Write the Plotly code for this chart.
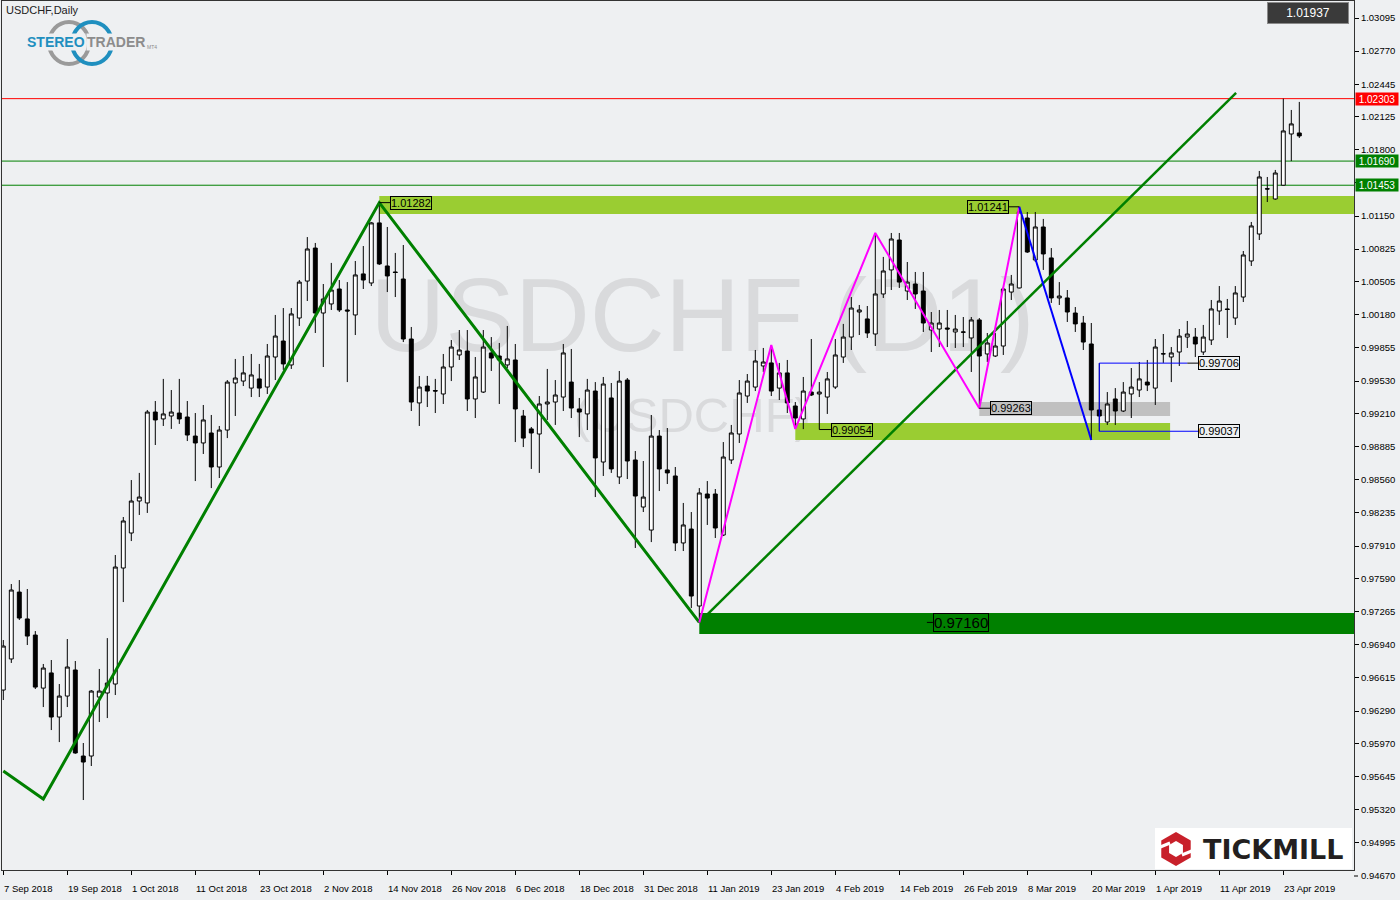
import plotly.graph_objects as go

# ---------------- data ----------------
bar_index = list(range(163))

open_ = [0.96496, 0.96801, 0.97458, 0.97194, 0.97036, 0.96515, 0.96664, 0.96231, 0.96437, 0.96693,
         0.95848, 0.95848, 0.96427, 0.96467, 0.96555, 0.97694, 0.98038, 0.98352, 0.98333, 0.99226,
         0.99158, 0.99187, 0.99216, 0.99177, 0.98990, 0.98922, 0.99020, 0.98686, 0.99049, 0.99511,
         0.99530, 0.99461, 0.99551, 0.99471, 0.99766, 0.99923, 0.99688, 1.00149, 1.00512, 1.00836,
         1.00198, 1.00287, 1.00434, 1.00228, 1.00179, 1.00582, 1.00493, 1.01083, 1.00660, 1.00601,
         1.00532, 0.99943, 0.99315, 0.99481, 0.99437, 0.99403, 0.99668, 0.99786, 0.99825, 0.99354,
         0.99422, 0.99806, 0.99776, 0.99688, 0.99737, 0.99187, 0.99060, 0.99010, 0.99305, 0.99324,
         0.99373, 0.99520, 0.99256, 0.99207, 0.99432, 0.98735, 0.99364, 0.98588, 0.99540, 0.98755,
         0.98293, 0.98067, 0.98990, 0.98657, 0.98598, 0.97940, 0.98077, 0.97321, 0.98421, 0.98421,
         0.98018, 0.98755, 0.99010, 0.99383, 0.99471, 0.99678, 0.99708, 0.99461, 0.99610, 0.99285,
         0.99158, 0.99422, 0.99403, 0.99373, 0.99471, 0.99766, 0.99962, 1.00208, 1.00140, 0.99992,
         1.00385, 1.00621, 1.00915, 1.00414, 1.00483, 1.00414, 1.00031, 1.00041, 1.00051, 1.00012,
         1.00012, 0.99953, 1.00130, 0.99796, 0.99776, 0.99874, 1.00404, 1.00444, 1.01131, 1.00719,
         1.01043, 1.00739, 1.00346, 1.00346, 1.00198, 1.00100, 0.99894, 0.99246, 0.99128, 0.99354,
         0.99236, 0.99403, 0.99442, 0.99520, 0.99461, 0.99796, 0.99766, 0.99815, 0.99962, 0.99962,
         0.99815, 0.99933, 1.00218, 1.00238, 1.00149, 1.00355, 1.00709, 1.00974, 1.01418, 1.01318,
         1.01453, 1.01956, 1.01966]

high = [0.96987, 0.97537, 0.97576, 0.97488, 0.97075, 0.96752, 0.96791, 0.96555, 0.96997, 0.96781,
        0.95976, 0.96496, 0.96703, 0.97006, 0.97822, 0.98195, 0.98558, 0.98628, 0.99246, 0.99334,
        0.99551, 0.99442, 0.99551, 0.99334, 0.99216, 0.99295, 0.99197, 0.99089, 0.99540, 0.99747,
        0.99776, 0.99796, 0.99698, 0.99894, 1.00179, 1.00247, 1.00247, 1.00522, 1.00944, 1.00886,
        1.00483, 1.00690, 1.00522, 1.00502, 1.00709, 1.00856, 1.01092, 1.01282, 1.01043, 1.00788,
        1.00866, 1.00061, 0.99580, 0.99580, 0.99551, 0.99796, 0.99933, 1.00031, 1.00031, 0.99766,
        1.00031, 0.99962, 0.99904, 1.00071, 0.99894, 0.99246, 0.99079, 0.99383, 0.99649, 0.99540,
        0.99894, 0.99845, 0.99364, 0.99551, 0.99520, 0.99570, 0.99511, 0.99629, 0.99560, 0.98843,
        0.98745, 0.99197, 0.99049, 0.99069, 0.98686, 0.98333, 0.98244, 0.98479, 0.98548, 0.98470,
        0.98931, 0.99099, 0.99540, 0.99599, 0.99835, 0.99855, 0.99884, 0.99708, 0.99737, 0.99324,
        0.99570, 0.99943, 0.99520, 0.99619, 0.99943, 1.00091, 1.00355, 1.00277, 1.00267, 1.00984,
        1.00749, 1.00984, 1.00984, 1.00699, 1.00601, 1.00601, 1.00208, 1.00228, 1.00228, 1.00179,
        1.00159, 1.00159, 1.00149, 1.00002, 1.00002, 1.00454, 1.00572, 1.01241, 1.01190, 1.01190,
        1.01122, 1.00836, 1.00502, 1.00424, 1.00257, 1.00169, 1.00100, 0.99706, 0.99422, 0.99461,
        0.99520, 0.99658, 0.99717, 0.99737, 0.99943, 0.99992, 0.99864, 1.00041, 1.00120, 1.00051,
        1.00081, 1.00326, 1.00463, 1.00336, 1.00463, 1.00807, 1.01092, 1.01593, 1.01534, 1.01603,
        1.02303, 1.02192, 1.02271]

low = [0.96398, 0.96762, 0.97184, 0.96938, 0.96506, 0.96329, 0.96103, 0.95985, 0.96329, 0.95870,
       0.95416, 0.95750, 0.96182, 0.96221, 0.96447, 0.97360, 0.97959, 0.98215, 0.98235, 0.98902,
       0.99089, 0.99060, 0.99109, 0.98941, 0.98548, 0.98814, 0.98479, 0.98578, 0.98970, 0.99187,
       0.99481, 0.99373, 0.99373, 0.99403, 0.99540, 0.99639, 0.99649, 1.00071, 1.00316, 1.00002,
       0.99668, 1.00228, 1.00208, 0.99520, 0.99982, 1.00434, 1.00463, 1.00670, 1.00404, 1.00355,
       0.99913, 0.99236, 0.99089, 0.99275, 0.99216, 0.99305, 0.99530, 0.99737, 0.99236, 0.99167,
       0.99413, 0.99629, 0.99305, 0.99658, 0.98931, 0.98882, 0.98667, 0.98628, 0.99148, 0.99099,
       0.99236, 0.99167, 0.98980, 0.99049, 0.98391, 0.98598, 0.98628, 0.98519, 0.98568, 0.97891,
       0.98244, 0.97949, 0.98450, 0.98519, 0.97861, 0.97861, 0.97301, 0.97160, 0.98117, 0.97989,
       0.98008, 0.98716, 0.98922, 0.99315, 0.99432, 0.99619, 0.99383, 0.99344, 0.99216, 0.99060,
       0.99058, 0.99383, 0.99054, 0.99207, 0.99452, 0.99708, 0.99835, 0.99982, 0.99953, 0.99874,
       1.00346, 1.00424, 1.00444, 1.00326, 1.00238, 1.00012, 0.99815, 0.99864, 0.99864, 0.99855,
       0.99864, 0.99619, 0.99263, 0.99717, 0.99766, 0.99786, 1.00326, 1.00440, 1.00788, 1.00699,
       1.00621, 1.00297, 1.00277, 1.00110, 1.00012, 0.99835, 0.98951, 0.99037, 0.99099, 0.99099,
       0.99226, 0.99167, 0.99373, 0.99432, 0.99295, 0.99708, 0.99520, 0.99678, 0.99855, 0.99766,
       0.99786, 0.99884, 1.00081, 0.99953, 1.00081, 1.00306, 1.00660, 1.00915, 1.01288, 1.01310,
       1.01450, 1.01690, 1.01917]

close = [0.96928, 0.97478, 0.97203, 0.97026, 0.96525, 0.96712, 0.96231, 0.96437, 0.96722, 0.95878,
         0.95789, 0.96486, 0.96486, 0.96565, 0.97704, 0.98156, 0.98352, 0.98391, 0.99226, 0.99148,
         0.99207, 0.99226, 0.99158, 0.99000, 0.98922, 0.99148, 0.98686, 0.99049, 0.99520, 0.99560,
         0.99610, 0.99590, 0.99461, 0.99776, 0.99972, 0.99698, 1.00189, 1.00502, 1.00827, 1.00198,
         1.00336, 1.00424, 1.00228, 1.00218, 1.00572, 1.00522, 1.01083, 1.00680, 1.00562, 1.00596,
         0.99943, 0.99324, 0.99471, 0.99432, 0.99432, 0.99668, 0.99864, 0.99835, 0.99354, 0.99570,
         0.99864, 0.99756, 0.99737, 0.99747, 0.99256, 0.98970, 0.99020, 0.99305, 0.99324, 0.99393,
         0.99806, 0.99265, 0.99226, 0.99442, 0.98775, 0.99501, 0.98667, 0.99530, 0.98745, 0.98401,
         0.98391, 0.98990, 0.98667, 0.98628, 0.97940, 0.98117, 0.97419, 0.98431, 0.98381, 0.98087,
         0.98784, 0.99020, 0.99413, 0.99530, 0.99727, 0.99717, 0.99432, 0.99610, 0.99315, 0.99167,
         0.99432, 0.99393, 0.99422, 0.99551, 0.99786, 0.99962, 1.00247, 1.00228, 1.00002, 1.00385,
         1.00611, 1.00925, 1.00502, 1.00502, 1.00385, 1.00100, 1.00100, 1.00100, 1.00041, 1.00041,
         1.00010, 1.00130, 0.99776, 0.99904, 0.99874, 1.00434, 1.00483, 1.01190, 1.00797, 1.01043,
         1.00778, 1.00346, 1.00365, 1.00208, 1.00091, 0.99913, 0.99246, 0.99187, 0.99305, 0.99236,
         0.99422, 0.99471, 0.99551, 0.99491, 0.99864, 0.99798, 0.99806, 0.99972, 0.99992, 0.99894,
         0.99962, 1.00238, 1.00316, 1.00233, 1.00395, 1.00768, 1.01053, 1.01534, 1.01416, 1.01573,
         1.01986, 1.02055, 1.01937]

x_tick_bars = [0, 8, 16, 24, 32, 40, 48, 56, 64, 72, 80, 88, 96, 104, 112, 120, 128, 136, 144, 152, 160]
x_tick_labels = ["7 Sep 2018", "19 Sep 2018", "1 Oct 2018", "11 Oct 2018", "23 Oct 2018", "2 Nov 2018",
                 "14 Nov 2018", "26 Nov 2018", "6 Dec 2018", "18 Dec 2018", "31 Dec 2018", "11 Jan 2019",
                 "23 Jan 2019", "4 Feb 2019", "14 Feb 2019", "26 Feb 2019", "8 Mar 2019", "20 Mar 2019",
                 "1 Apr 2019", "11 Apr 2019", "23 Apr 2019"]

y_ticks = [1.03095, 1.02770, 1.02445, 1.02125, 1.01800, 1.01475, 1.01150, 1.00825, 1.00505, 1.00180,
           0.99855, 0.99530, 0.99210, 0.98885, 0.98560, 0.98235, 0.97910, 0.97590, 0.97265, 0.96940,
           0.96615, 0.96290, 0.95970, 0.95645, 0.95320, 0.94995]
y_tick_below = 0.94670

# drawn analysis objects (bar index, price)
green_zz_x = [0, 5, 47, 87]
green_zz_y = [0.95701, 0.95426, 1.01282, 0.97160]
trend_x = [87, 154.1]
trend_y = [0.97160, 1.02359]
pink_x = [87, 96, 99, 109, 122, 127]
pink_y = [0.97160, 0.99884, 0.99060, 1.00984, 0.99263, 1.01241]
blue_x = [127, 136]
blue_y = [1.01241, 0.98951]

h_levels = [1.02303, 1.01690, 1.01453]
h_colors = ["#ff0000", "#008000", "#008000"]
current_price = 1.01937

# ---------------- geometry helpers (pixels -> paper) ----------------
W, H = 1400, 900
PL, PR, PT, PB = 2, 1354, 1, 870
X_MIN, X_MAX = (PL - 3.3) / 8.0, (PR - 3.3) / 8.0
Y_MAX = 1.032717 - 0.000098193 * PT
Y_MIN = 1.032717 - 0.000098193 * PB
BG = "#eef0f2"


def px(x):
    return (x - PL) / (PR - PL)


def py(y):
    return (PB - y) / (PB - PT)


fig = go.Figure()

# candles
fig.add_trace(go.Candlestick(
    x=bar_index, open=open_, high=high, low=low, close=close,
    increasing=dict(line=dict(color="black", width=1), fillcolor="white"),
    decreasing=dict(line=dict(color="black", width=1), fillcolor="black"),
    whiskerwidth=0, hoverinfo="skip", showlegend=False))

# analysis lines (above candles)
fig.add_trace(go.Scatter(x=green_zz_x, y=green_zz_y, mode="lines",
                         line=dict(color="#008000", width=3), hoverinfo="skip", showlegend=False))
fig.add_trace(go.Scatter(x=trend_x, y=trend_y, mode="lines",
                         line=dict(color="#008000", width=2.5), hoverinfo="skip", showlegend=False))
fig.add_trace(go.Scatter(x=pink_x, y=pink_y, mode="lines",
                         line=dict(color="#ff00ff", width=2), hoverinfo="skip", showlegend=False))
fig.add_trace(go.Scatter(x=blue_x, y=blue_y, mode="lines",
                         line=dict(color="#0000ff", width=2), hoverinfo="skip", showlegend=False))

shapes = []
WM_FONT = "Liberation Sans, Arial, sans-serif"

# watermark (below candles, via shape labels)
shapes.append(dict(type="rect", xref="paper", yref="paper", layer="below",
                   x0=px(340), x1=px(1065), y0=py(250), y1=py(360),
                   line=dict(width=0), fillcolor="rgba(0,0,0,0)",
                   label=dict(text="USDCHF (D1)", textposition="middle center",
                              font=dict(family=WM_FONT, size=104, color="#d9dadc"))))
shapes.append(dict(type="rect", xref="paper", yref="paper", layer="below",
                   x0=px(560), x1=px(825), y0=py(380), y1=py(440),
                   line=dict(width=0), fillcolor="rgba(0,0,0,0)",
                   label=dict(text="(USDCHF)", textposition="middle center",
                              font=dict(family=WM_FONT, size=49, color="#d9dadc"))))

# zones
shapes.append(dict(type="rect", xref="x", yref="y", layer="below", x0=47, x1=X_MAX,
                   y0=1.01170, y1=1.01347, line=dict(width=0), fillcolor="#9acd32"))
shapes.append(dict(type="rect", xref="x", yref="y", layer="below", x0=99, x1=145.85,
                   y0=0.98951, y1=0.99118, line=dict(width=0), fillcolor="#9acd32"))
shapes.append(dict(type="rect", xref="x", yref="y", layer="below", x0=122, x1=145.85,
                   y0=0.99187, y1=0.99324, line=dict(width=0), fillcolor="#c0c0c0"))
shapes.append(dict(type="rect", xref="x", yref="y", layer="below", x0=87, x1=X_MAX,
                   y0=0.97046, y1=0.97252, line=dict(width=0), fillcolor="#008000"))

# horizontal levels
for lv, col in zip(h_levels, h_colors):
    shapes.append(dict(type="line", xref="paper", yref="y", layer="below", x0=0, x1=1,
                       y0=lv, y1=lv, line=dict(color=col, width=1)))

# connectors to labels
for xa, xb, yv, col in [(47, 48.34, 1.01282, "black"), (125.7, 127, 1.01241, "black"),
                        (102, 103.47, 0.99054, "black"), (122, 123.34, 0.99263, "black"),
                        (115.45, 116.2, 0.97160, "black"),
                        (137, 148.0, 0.99706, "#0000ff"), (148.0, 149.34, 0.99706, "black"),
                        (137, 149.34, 0.99037, "#0000ff")]:
    shapes.append(dict(type="line", xref="x", yref="y", x0=xa, x1=xb, y0=yv, y1=yv,
                       line=dict(color=col, width=1)))
shapes.append(dict(type="line", xref="x", yref="y", x0=137, x1=137, y0=0.99037, y1=0.99706,
                   line=dict(color="#0000ff", width=1)))

# Stereotrader rings
shapes.append(dict(type="circle", xref="paper", yref="paper", x0=px(49), x1=px(89), y0=py(64), y1=py(22),
                   line=dict(color="#9a9a9a", width=4)))
shapes.append(dict(type="circle", xref="paper", yref="paper", x0=px(72), x1=px(112), y0=py(64), y1=py(22),
                   line=dict(color="#1f8fbf", width=4)))

# Tickmill box + icon
shapes.append(dict(type="rect", xref="paper", yref="paper", x0=px(1155), x1=px(1352), y0=py(869), y1=py(828),
                   line=dict(width=0), fillcolor="white"))
cx, cy, R, r = 1176, 849, 17, 8
outer = [(cx, cy - R), (cx + 0.866 * R, cy - R / 2), (cx + 0.866 * R, cy + R / 2), (cx, cy + R),
         (cx - 0.866 * R, cy + R / 2), (cx - 0.866 * R, cy - R / 2)]
inner = [(cx, cy - r), (cx + 0.866 * r, cy - r / 2), (cx + 0.866 * r, cy + r / 2), (cx, cy + r),
         (cx - 0.866 * r, cy + r / 2), (cx - 0.866 * r, cy - r / 2)]


def hexpath(pts):
    return "M " + " L ".join(f"{px(a):.5f},{py(b):.5f}" for a, b in pts) + " Z"


shapes.append(dict(type="path", xref="paper", yref="paper", path=hexpath(outer),
                   fillcolor="#c8202a", line=dict(width=0)))
shapes.append(dict(type="path", xref="paper", yref="paper", path=hexpath(inner),
                   fillcolor="white", line=dict(width=0)))
shapes.append(dict(type="line", xref="paper", yref="paper", x0=px(cx - 0.866 * R - 1), x1=px(cx - 0.866 * r + 1),
                   y0=py(cy - 2), y1=py(cy - 6), line=dict(color="white", width=3)))
shapes.append(dict(type="line", xref="paper", yref="paper", x0=px(cx + 0.866 * R + 1), x1=px(cx + 0.866 * r - 1),
                   y0=py(cy + 2), y1=py(cy + 6), line=dict(color="white", width=3)))

# tick below the plot bottom on the price scale
shapes.append(dict(type="line", xref="paper", yref="paper", x0=px(PR), x1=px(PR + 4),
                   y0=py(876), y1=py(876), line=dict(color="black", width=1)))

annotations = []
FONT = "Liberation Sans, Arial, sans-serif"

# object labels
for xv, yv, txt, anchor, size in [(48.34, 1.01282, "1.01282", "left", 11),
                                  (125.7, 1.01241, "1.01241", "right", 11),
                                  (103.47, 0.99054, "0.99054", "left", 11),
                                  (123.34, 0.99263, "0.99263", "left", 11),
                                  (149.34, 0.99706, "0.99706", "left", 11),
                                  (149.34, 0.99037, "0.99037", "left", 11),
                                  (116.2, 0.97160, "0.97160", "left", 15)]:
    annotations.append(dict(x=xv, y=yv, xref="x", yref="y", text=txt, showarrow=False,
                            xanchor=anchor, yanchor="middle",
                            font=dict(family=FONT, size=size, color="black"),
                            bordercolor="black", borderwidth=1, borderpad=0,
                            bgcolor="rgba(0,0,0,0)"))

# price-scale labels of levels
for lv, col in zip(h_levels, h_colors):
    annotations.append(dict(x=px(PR + 1), y=lv, xref="paper", yref="y", text=f"{lv:.5f}",
                            showarrow=False, xanchor="left", yanchor="middle", width=42, height=12,
                            font=dict(family=FONT, size=10, color="white"), bgcolor=col, borderpad=0))
annotations.append(dict(x=px(PR + 5), y=py(876), xref="paper", yref="paper", text=f"{y_tick_below:.5f}",
                        showarrow=False, xanchor="left", yanchor="middle",
                        font=dict(family=FONT, size=9.5, color="black")))

# current price box
annotations.append(dict(x=px(1308), y=py(13), xref="paper", yref="paper", text=f"{current_price:.5f}",
                        showarrow=False, xanchor="center", yanchor="middle", width=78, height=18,
                        bgcolor="#3a3a3a", bordercolor="#8a8a8a",
                        borderwidth=1, font=dict(family=FONT, size=12, color="white")))

# time labels
for b, t in zip(x_tick_bars, x_tick_labels):
    annotations.append(dict(x=b, y=0, xref="x", yref="paper", text=t, showarrow=False,
                            xanchor="left", yanchor="top", yshift=-11, xshift=-1,
                            font=dict(family=FONT, size=9.5, color="black")))

# title
annotations.append(dict(x=px(4), y=py(10), xref="paper", yref="paper", text="USDCHF,Daily", showarrow=False,
                        xanchor="left", yanchor="middle", font=dict(family=FONT, size=11, color="#222222")))

# Stereotrader text
annotations.append(dict(x=px(86), y=py(42), xref="paper", yref="paper", text="<b>STEREO</b>", showarrow=False,
                        xanchor="right", yanchor="middle", bgcolor=BG, borderpad=0,
                        font=dict(family=FONT, size=14, color="#1f8fbf")))
annotations.append(dict(x=px(86), y=py(42), xref="paper", yref="paper", text="<b>TRADER</b>", showarrow=False,
                        xanchor="left", yanchor="middle", bgcolor=BG, borderpad=0,
                        font=dict(family=FONT, size=14, color="#8c8c8c")))
annotations.append(dict(x=px(145), y=py(47), xref="paper", yref="paper", text="MT4", showarrow=False,
                        xanchor="left", yanchor="middle",
                        font=dict(family=FONT, size=5, color="#8c8c8c")))

# Tickmill text
annotations.append(dict(x=px(1201), y=py(849), xref="paper", yref="paper", text="<b>TICKMILL</b>",
                        showarrow=False, xanchor="left", yanchor="middle",
                        font=dict(family="DejaVu Sans, Liberation Sans", size=27, color="#231f20")))

fig.update_layout(
    width=W, height=H,
    margin=dict(l=PL, r=W - PR, t=PT, b=H - PB),
    paper_bgcolor=BG, plot_bgcolor=BG,
    shapes=shapes, annotations=annotations,
    showlegend=False,
    xaxis=dict(range=[X_MIN, X_MAX], rangeslider=dict(visible=False), showgrid=False, zeroline=False,
               tickmode="array", tickvals=x_tick_bars, ticks="outside", ticklen=4, tickcolor="black",
               showticklabels=False, showline=True, mirror=True, linecolor="#333333", linewidth=1,
               fixedrange=True),
    yaxis=dict(range=[Y_MIN, Y_MAX], side="right", showgrid=False, zeroline=False,
               tickmode="array", tickvals=y_ticks, ticktext=[f"{v:.5f}" for v in y_ticks],
               ticks="outside", ticklen=4, tickcolor="black",
               tickfont=dict(family=FONT, size=9.5, color="black"),
               showline=True, mirror=True, linecolor="#333333", linewidth=1, fixedrange=True),
)

fig.write_html("out.html", config={"displayModeBar": False},
               post_script="document.body.style.margin='0';document.body.style.overflow='hidden';")
